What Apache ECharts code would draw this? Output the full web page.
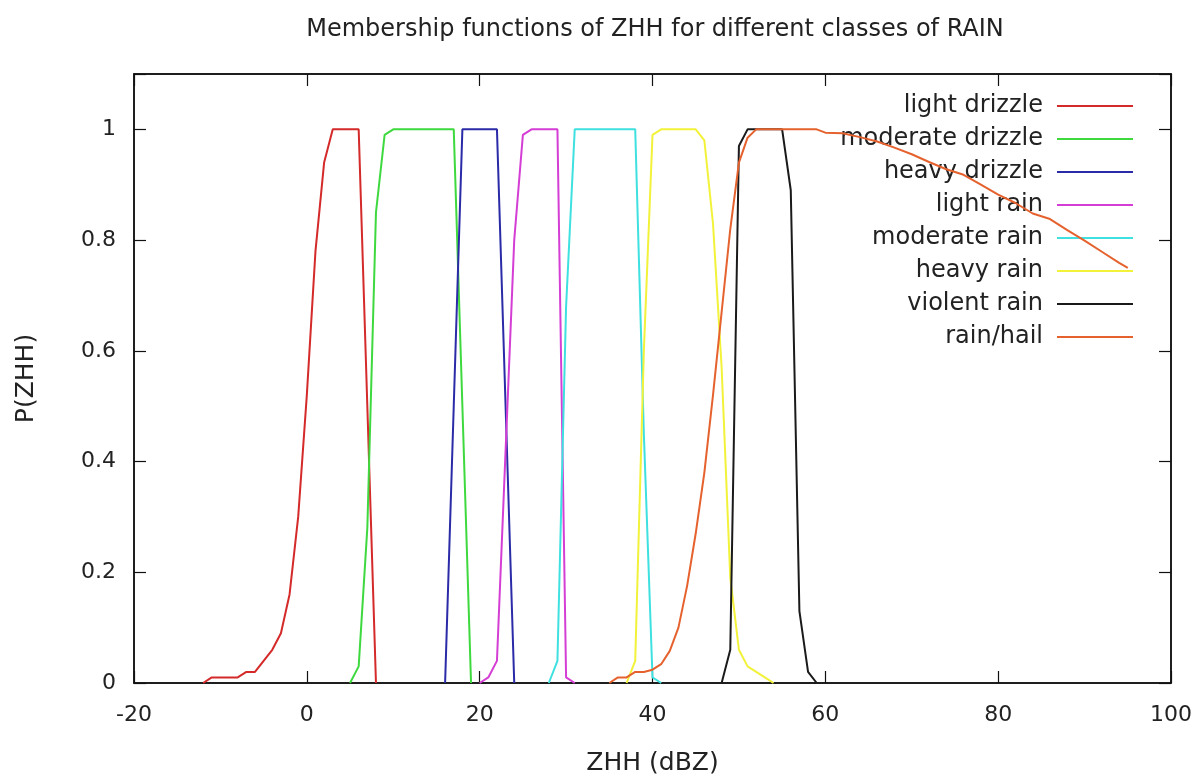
<!DOCTYPE html>
<html>
<head>
<meta charset="utf-8">
<title>Membership functions of ZHH</title>
<script src="https://cdn.jsdelivr.net/npm/echarts@6/dist/echarts.min.js"></script>
<style>
  html, body { margin: 0; padding: 0; background: #ffffff; }
  #chart { width: 1204px; height: 781px; }
</style>
</head>
<body>
<div id="chart"></div>
<script>
// Membership functions P(ZHH) for each rain class, as [ZHH (dBZ), P] pairs
const lightDrizzle = [[-12,0],[-11,0.01],[-10,0.01],[-9,0.01],[-8,0.01],[-7,0.02],[-6,0.02],[-5,0.04],[-4,0.06],[-3,0.09],[-2,0.16],[-1,0.3],[0,0.52],[1,0.78],[2,0.94],[3,1],[4,1],[5,1],[6,1],[7,0.5],[8,0]];
const moderateDrizzle = [[5,0],[6,0.03],[7,0.28],[8,0.85],[9,0.99],[10,1],[11,1],[12,1],[13,1],[14,1],[15,1],[16,1],[17,1],[18,0.5],[19,0]];
const heavyDrizzle = [[16,0],[17,0.5],[18,1],[19,1],[20,1],[21,1],[22,1],[23,0.5],[24,0]];
const lightRain = [[20,0],[21,0.01],[22,0.04],[23,0.42],[24,0.8],[25,0.99],[26,1],[27,1],[28,1],[29,1],[30,0.01],[31,0]];
const moderateRain = [[28,0],[29,0.04],[30,0.68],[31,1],[32,1],[33,1],[34,1],[35,1],[36,1],[37,1],[38,1],[39,0.45],[40,0.01],[41,0]];
const heavyRain = [[37,0],[38,0.04],[39,0.6],[40,0.99],[41,1],[42,1],[43,1],[44,1],[45,1],[46,0.98],[47,0.83],[48,0.57],[49,0.19],[50,0.06],[51,0.03],[52,0.02],[53,0.01],[54,0]];
const violentRain = [[48,0],[49,0.06],[50,0.97],[51,1],[52,1],[53,1],[54,1],[55,1],[56,0.89],[57,0.13],[58,0.02],[59,0]];
const rainHail = [[35,0],[36,0.01],[37,0.01],[38,0.02],[39,0.02],[40,0.024],[41,0.034],[42,0.058],[43,0.1],[44,0.175],[45,0.27],[46,0.38],[47,0.52],[48,0.67],[49,0.82],[50,0.94],[51,0.985],[52,1],[53,1],[54,1],[55,1],[56,1],[57,1],[58,1],[59,1],[60,0.994],[62,0.993],[64,0.986],[66,0.978],[68,0.967],[70,0.955],[72,0.941],[74,0.928],[76,0.918],[78,0.9],[80,0.882],[82,0.867],[84,0.848],[86,0.838],[88,0.818],[90,0.799],[92,0.779],[94,0.759],[95,0.75]];

const classNames = ['light drizzle', 'moderate drizzle', 'heavy drizzle', 'light rain', 'moderate rain', 'heavy rain', 'violent rain', 'rain/hail'];
const classData = [lightDrizzle, moderateDrizzle, heavyDrizzle, lightRain, moderateRain, heavyRain, violentRain, rainHail];
const classColors = ['#d42a2a', '#3ed93e', '#2b2ba8', '#d53ed5', '#3fe0e0', '#f2f23a', '#1a1a1a', '#e5622e'];

const xTicks = { min: -20, max: 100, step: 20 };
const yTicks = { min: 0, max: 1.1, step: 0.2 };

const FONT = 'DejaVu Sans';
const TEXT = '#222222';
const FRAME = '#111111';

const chart = echarts.init(document.getElementById('chart'), null, { renderer: 'canvas' });

const valueAxisBase = {
  type: 'value',
  axisLine: { show: true, onZero: false, lineStyle: { color: FRAME, width: 1.5 } },
  axisTick: { show: true, inside: true, length: 12, lineStyle: { color: FRAME, width: 1.2 } },
  splitLine: { show: false }
};

chart.setOption({
  animation: false,
  backgroundColor: '#ffffff',
  textStyle: { fontFamily: FONT },
  title: {
    text: 'Membership functions of ZHH for different classes of RAIN',
    left: 650, top: 13, textAlign: 'center',
    textStyle: { fontFamily: FONT, fontSize: 24, fontWeight: 'normal', color: TEXT }
  },
  grid: { left: 134, top: 74, width: 1037, height: 611, show: true, borderColor: FRAME, borderWidth: 1.5, backgroundColor: 'transparent' },
  legend: {
    orient: 'vertical',
    right: 66, top: 89,
    align: 'right',
    itemWidth: 76, itemHeight: 20, itemGap: 9,
    icon: 'path://M0,0 L100,0 L100,2.6 L0,2.6 Z',
    selectedMode: false,
    textStyle: { fontFamily: FONT, fontSize: 24, color: TEXT, lineHeight: 20, padding: [0, 9, 0, 0] },
    data: classNames.map((n, i) => ({ name: n, itemStyle: { color: classColors[i] } }))
  },
  xAxis: [
    Object.assign({}, valueAxisBase, {
      position: 'bottom', min: xTicks.min, max: xTicks.max, interval: xTicks.step,
      name: 'ZHH (dBZ)', nameLocation: 'middle', nameGap: 68,
      nameTextStyle: { fontFamily: FONT, fontSize: 25, color: TEXT },
      axisLabel: { fontFamily: FONT, fontSize: 22, color: TEXT, margin: 21 }
    }),
    Object.assign({}, valueAxisBase, {
      position: 'top', min: xTicks.min, max: xTicks.max, interval: xTicks.step,
      axisLabel: { show: false }
    })
  ],
  yAxis: [
    Object.assign({}, valueAxisBase, {
      position: 'left', min: yTicks.min, max: yTicks.max, interval: yTicks.step,
      name: 'P(ZHH)', nameLocation: 'middle', nameGap: 95,
      nameTextStyle: { fontFamily: FONT, fontSize: 25, color: TEXT },
      axisLabel: {
        fontFamily: FONT, fontSize: 22, color: TEXT, margin: 18,
        formatter: v => (v > 1.05 ? '' : String(Math.round(v * 10) / 10))
      }
    }),
    Object.assign({}, valueAxisBase, {
      position: 'right', min: yTicks.min, max: yTicks.max, interval: yTicks.step,
      axisLabel: { show: false }
    })
  ],
  series: classNames.map((n, i) => ({
    name: n,
    type: 'line',
    xAxisIndex: 0, yAxisIndex: 0,
    data: classData[i],
    showSymbol: false, symbol: 'none',
    lineStyle: { color: classColors[i], width: 2 },
    itemStyle: { color: classColors[i] },
    z: 2 + i
  }))
});
</script>
</body>
</html>
